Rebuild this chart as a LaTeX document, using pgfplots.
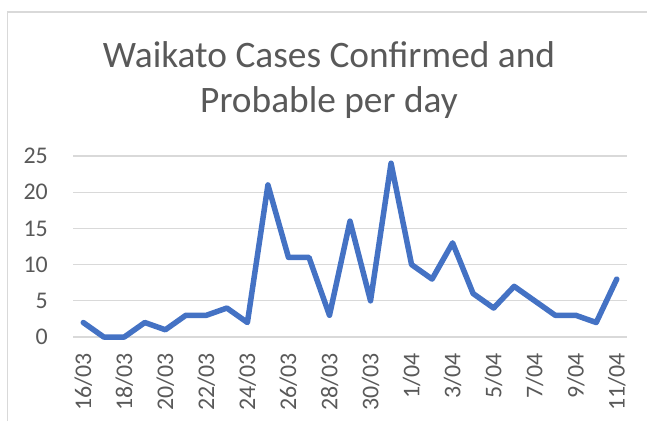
\documentclass[border=0pt]{standalone}
\usepackage{pgfplots}
\pgfplotsset{compat=1.18}
\usepackage{fontspec}
\setmainfont{Carlito}
\definecolor{txt}{HTML}{595959}
\definecolor{gridc}{HTML}{D9D9D9}
\definecolor{lineblue}{HTML}{4472C4}
\begin{document}
\begin{tikzpicture}[x=1bp,y=1bp]
\path[use as bounding box] (0,0) rectangle (647,421);
\draw[gridc, line width=1.3bp] (7.5,0) -- (7.5,409) -- (647,409);
\node[anchor=base, text=txt, font=\fontsize{37.5}{45}\selectfont] at (329,354) {Waikato Cases Confirmed and};
\node[anchor=base, text=txt, font=\fontsize{37.5}{45}\selectfont] at (329,309) {Probable per day};
\begin{axis}[
  at={(73bp,84bp)}, anchor=south west,
  scale only axis, width=554bp, height=181bp,
  xmin=-0.5, xmax=26.5, ymin=0, ymax=25,
  axis x line*=bottom, axis y line*=left,
  y axis line style={draw=none},
  x axis line style={gridc, line width=1.3bp},
  xtick={0,2,...,26},
  xticklabels={16/03,18/03,20/03,22/03,24/03,26/03,28/03,30/03,1/04,3/04,5/04,7/04,9/04,11/04},
  major x tick style={draw=none},
  extra x ticks={-0.5,1.5,...,25.5},
  extra x tick labels={},
  extra x tick style={tick align=outside, major tick length=7bp, tick style={gridc, line width=1.3bp}, grid=none},
  ytick={0,5,...,25},
  ymajorgrids, grid style={gridc, line width=1.3bp},
  major y tick style={draw=none},
  tick label style={text=txt, font=\fontsize{24}{28}\selectfont, inner sep=0pt},
  /pgf/number format/assume math mode=true,
  xticklabel style={rotate=90, anchor=east},
  xticklabel shift=16bp,
  yticklabel style={anchor=east},
  yticklabel shift=25bp,
  clip=false,
]
\addplot[lineblue, line width=5.5bp, line join=round, line cap=round, mark=none] coordinates {
(0,2) (1,0) (2,0) (3,2) (4,1) (5,3) (6,3) (7,4) (8,2) (9,21) (10,11) (11,11) (12,3) (13,16) (14,5) (15,24) (16,10) (17,8) (18,13) (19,6) (20,4) (21,7) (22,5) (23,3) (24,3) (25,2) (26,8)
};
\end{axis}
\end{tikzpicture}
\end{document}
